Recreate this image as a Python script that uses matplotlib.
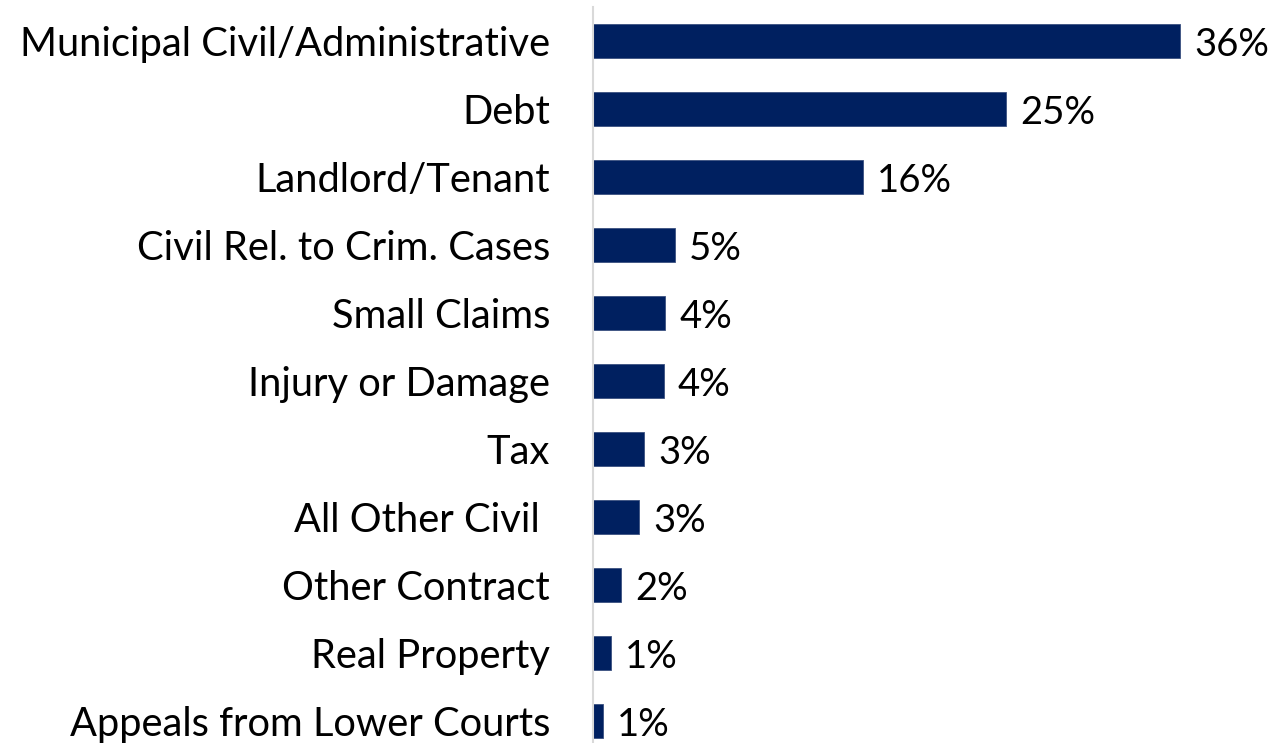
import matplotlib.pyplot as plt

# case types, top to bottom, and their share of filings (%)
categories = ['Municipal Civil/Administrative', 'Debt', 'Landlord/Tenant',
              'Civil Rel. to Crim. Cases', 'Small Claims', 'Injury or Damage',
              'Tax', 'All Other Civil ', 'Other Contract', 'Real Property',
              'Appeals from Lower Courts']
shares = [35.7, 25.1, 16.4, 5.0, 4.4, 4.3, 3.1, 2.8, 1.7, 1.1, 0.6]

plt.rcParams['font.family'] = ['Lato', 'DejaVu Sans']

W, H = 1274, 743
fig = plt.figure(figsize=(W / 100, H / 100), dpi=100)
# axis line at x=593px, rows are 68px apart starting at y=41px
ax = fig.add_axes([593 / W, (H - 755) / H, (W - 593) / W, 748 / H])

y = list(range(len(categories)))
bars = ax.barh(y, shares, height=0.5, color='#002060',
               edgecolor='#3a5080', linewidth=0.6)
labels = ax.bar_label(bars, labels=[f'{v:.0f}%' for v in shares],
                      padding=10, fontsize=27.5, color='black')
for t in labels:
    t.set_va('center_baseline')

ax.set_ylim(len(categories) - 0.5, -0.5)
ax.set_xlim(0, (W - 593) / 16.45)
ax.set_yticks(y)
ax.set_yticklabels(categories, fontsize=28.7)
ax.tick_params(axis='y', length=0, pad=31)
ax.set_xticks([])

for side in ['top', 'right', 'bottom']:
    ax.spines[side].set_visible(False)
ax.spines['left'].set_color('#d9d9d9')
ax.spines['left'].set_linewidth(1.5)

fig.savefig('out.png', dpi=100)
